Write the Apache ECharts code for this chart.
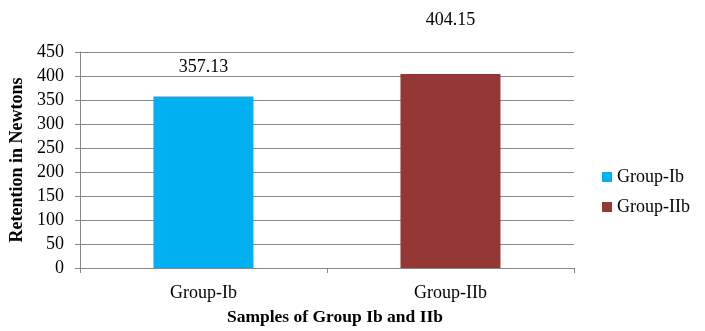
<!DOCTYPE html>
<html>
<head>
<meta charset="utf-8">
<script src="https://cdn.jsdelivr.net/npm/echarts@6/dist/echarts.min.js"></script>
<style>
  html, body { margin: 0; padding: 0; background: #fff; }
  #chart { width: 705px; height: 331px; }
</style>
</head>
<body>
<div id="chart"></div>
<script>
// Retention values per sample group
const categories = ['Group-Ib', 'Group-IIb'];
const seriesNames = ['Group-Ib', 'Group-IIb'];
const retentionValues = [357.13, 404.15];
const yTicks = { min: 0, max: 450, interval: 50 };

const colors = ['#00B0F0', '#953735'];
const labelLift = [20, 45];
const FONT = '"Liberation Serif", "Times New Roman", serif';
const AXIS_GREY = '#878787';

// One series per group, each occupying its own category slot
const series = seriesNames.map((name, i) => ({
  name: name,
  type: 'bar',
  barWidth: 100,
  barGap: '-100%',
  itemStyle: { color: colors[i] },
  label: {
    show: true,
    position: 'top',
    distance: labelLift[i],
    color: '#000',
    fontFamily: FONT,
    fontSize: 18
  },
  data: categories.map((c, j) => (j === i ? retentionValues[i] : null))
}));

const chart = echarts.init(document.getElementById('chart'), null, { renderer: 'canvas' });
chart.setOption({
  animation: false,
  textStyle: { fontFamily: FONT },
  grid: { left: 78, right: 131, top: 52, bottom: 58, containLabel: false },
  legend: {
    orient: 'vertical',
    left: 602,
    top: 168,
    padding: 0,
    itemWidth: 10,
    itemHeight: 10,
    itemGap: 12,
    icon: 'rect',
    textStyle: { fontFamily: FONT, fontSize: 18, color: '#000' },
    data: seriesNames
  },
  xAxis: {
    type: 'category',
    data: categories,
    name: 'Samples of Group Ib and IIb',
    nameLocation: 'middle',
    nameGap: 40,
    nameTextStyle: { fontFamily: FONT, fontSize: 17.5, fontWeight: 'bold', color: '#000', padding: [0, 0, 0, 16] },
    axisLine: { lineStyle: { color: AXIS_GREY, width: 1 } },
    axisTick: { show: true, length: 5, lineStyle: { color: AXIS_GREY } },
    axisLabel: { margin: 16, fontFamily: FONT, fontSize: 18, color: '#000' }
  },
  yAxis: {
    type: 'value',
    min: yTicks.min,
    max: yTicks.max,
    interval: yTicks.interval,
    name: 'Retention in Newtons',
    nameLocation: 'middle',
    nameGap: 52,
    nameTextStyle: { fontFamily: FONT, fontSize: 18, fontWeight: 'bold', color: '#000' },
    axisLine: { show: true, lineStyle: { color: AXIS_GREY, width: 1 } },
    axisTick: { show: true, length: 5, lineStyle: { color: AXIS_GREY } },
    axisLabel: { margin: 16, fontFamily: FONT, fontSize: 18, color: '#000' },
    splitLine: { show: true, lineStyle: { color: AXIS_GREY, width: 1 } }
  },
  series: series
});
</script>
</body>
</html>
